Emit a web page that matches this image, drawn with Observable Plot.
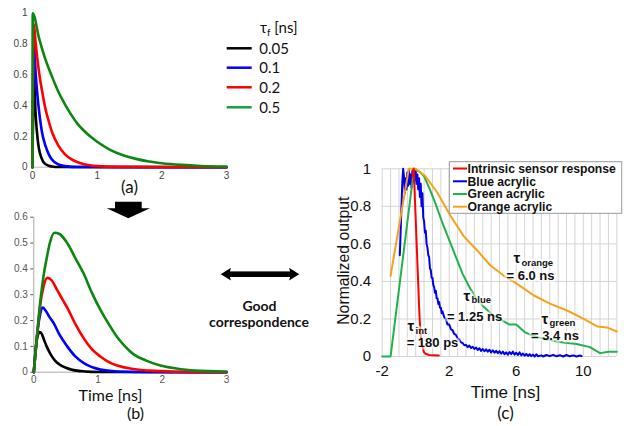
<!DOCTYPE html>
<html>
<head>
<meta charset="utf-8">
<script src="https://cdn.jsdelivr.net/npm/d3@7"></script>
<script src="https://cdn.jsdelivr.net/npm/@observablehq/plot@0.6"></script>
<style>
  html, body { margin: 0; padding: 0; background: #fff; }
  #root { position: relative; width: 633px; height: 426px; background: #fff; overflow: hidden; }
  #root > svg { position: absolute; }
</style>
</head>
<body>
<div id="root"></div>
<script>
// ---------- Panel (a): decay functions ----------
const aTauLabels = ["0.05", "0.1", "0.2", "0.5"];
const aColors = ["#000000", "#0000ff", "#ff0000", "#0b870f"];
const aLegendColors = ["#000000", "#0000ff", "#ff0000", "#14a044"];
const aXTicks = [0, 1, 2, 3];
const aYTicks = [0, 0.2, 0.4, 0.6, 0.8, 1];

const aBlackT = [0, 0.02, 0.05, 0.08, 0.1, 0.13, 0.16, 0.2, 0.25, 0.3, 0.4, 3];
const aBlackV = [0, 0.6, 0.33, 0.18, 0.12, 0.07, 0.04, 0.02, 0.01, 0.005, 0.001, 0];
const aBlueT = [0, 0.02, 0.05, 0.08, 0.1, 0.15, 0.2, 0.25, 0.3, 0.4, 0.5, 0.7, 3];
const aBlueV = [0, 0.8, 0.6, 0.45, 0.37, 0.22, 0.14, 0.085, 0.05, 0.018, 0.007, 0.001, 0];
const aRedT = [0, 0.02, 0.05, 0.1, 0.15, 0.2, 0.25, 0.3, 0.4, 0.5, 0.6, 0.8, 1.0, 1.3, 3];
const aRedV = [0, 0.93, 0.8, 0.62, 0.49, 0.38, 0.3, 0.23, 0.14, 0.085, 0.052, 0.019, 0.007, 0.002, 0];
const aGreenT = [0, 0.003, 0.1, 0.2, 0.3, 0.4, 0.5, 0.6, 0.7, 0.8, 0.9, 1.0, 1.2, 1.4, 1.6, 1.8, 2.0, 2.3, 2.6, 3];
const aGreenV = [0, 1, 0.84, 0.7, 0.59, 0.49, 0.41, 0.34, 0.28, 0.235, 0.197, 0.165, 0.113, 0.078, 0.054, 0.037, 0.026, 0.015, 0.008, 0.004];

// ---------- Panel (b): convolved responses ----------
const bXTicks = [0, 1, 2, 3];
const bYTicks = [0, 0.1, 0.2, 0.3, 0.4, 0.5, 0.6];
const bBlackT = [0, 0.03, 0.06, 0.09, 0.12, 0.16, 0.2, 0.26, 0.33, 0.4, 0.5, 0.6, 0.8, 1.0, 3];
const bBlackV = [0, 0.09, 0.14, 0.155, 0.15, 0.125, 0.1, 0.07, 0.045, 0.03, 0.017, 0.009, 0.003, 0.001, 0];
const bBlueT = [0, 0.05, 0.1, 0.14, 0.18, 0.24, 0.31, 0.4, 0.52, 0.65, 0.78, 1.04, 1.3, 1.6, 3];
const bBlueV = [0, 0.14, 0.225, 0.25, 0.24, 0.215, 0.19, 0.145, 0.1, 0.06, 0.035, 0.01, 0.003, 0.001, 0];
const bRedT = [0, 0.05, 0.1, 0.15, 0.21, 0.28, 0.36, 0.45, 0.52, 0.65, 0.78, 0.9, 1.04, 1.2, 1.3, 1.5, 1.8, 2.2, 3];
const bRedV = [0, 0.14, 0.26, 0.33, 0.365, 0.355, 0.32, 0.28, 0.25, 0.185, 0.13, 0.09, 0.06, 0.035, 0.026, 0.014, 0.006, 0.002, 0];
const bGreenT = [0, 0.05, 0.1, 0.15, 0.2, 0.25, 0.32, 0.4, 0.52, 0.65, 0.78, 0.9, 1.04, 1.17, 1.3, 1.42, 1.55, 1.75, 1.97, 2.2, 2.5, 3];
const bGreenV = [0, 0.14, 0.27, 0.37, 0.44, 0.5, 0.54, 0.535, 0.5, 0.44, 0.38, 0.31, 0.24, 0.185, 0.135, 0.1, 0.07, 0.045, 0.026, 0.015, 0.006, 0.003];

// ---------- Panel (c): measured responses ----------
const cSeries = ["Intrinsic sensor response", "Blue acrylic", "Green acrylic", "Orange acrylic"];
const cColors = ["#ff0000", "#0000ee", "#22b14c", "#f7a21b"];
const cXTicks = [-2, 2, 6, 10];
const cYTicks = [0, 0.2, 0.4, 0.6, 0.8, 1];

const cRedT = [-0.2, -0.12, 0, 0.1, 0.2, 0.245, 0.3, 0.39, 0.48, 0.58, 0.8, 1.0, 1.38];
const cRedV = [0.96, 1.0, 0.73, 0.5, 0.27, 0.18, 0.11, 0.06, 0.025, 0.015, 0.008, 0.006, 0.005];

const cBlueT = [-0.95, -0.9, -0.85, -0.8, -0.75, -0.7, -0.65, -0.6, -0.55, -0.5, -0.45, -0.4, -0.35, -0.3, -0.25, -0.2, -0.15, -0.1, -0.05, 0,
  0.05, 0.1, 0.15, 0.2, 0.25, 0.3, 0.35, 0.4, 0.45, 0.5, 0.55, 0.6, 0.65, 0.7, 0.75, 0.8, 0.85, 0.9, 0.95, 1.0,
  1.05, 1.1, 1.15, 1.2, 1.25, 1.3, 1.35, 1.4, 1.45, 1.5, 1.55, 1.6, 1.7, 1.8, 1.9, 2.0, 2.1, 2.2, 2.3, 2.4,
  2.5, 2.6, 2.7, 2.8, 2.9, 3.0, 3.1, 3.2, 3.3, 3.4, 3.5, 3.6, 3.7, 3.8, 3.9, 4.0, 4.1, 4.2, 4.3, 4.4,
  4.5, 4.6, 4.7, 4.8, 4.9, 5.0, 5.1, 5.2, 5.3, 5.4, 5.5, 5.6, 5.7, 5.8, 5.9, 6.0, 6.1, 6.2, 6.3, 6.4,
  6.5, 6.6, 6.7, 6.8, 6.9, 7.0, 7.1, 7.2, 7.3, 7.5, 7.6, 7.8, 8.0, 8.2, 8.4, 8.6, 8.8, 9.0, 9.2, 9.4, 9.6, 9.8, 9.9];
const cBlueV = [0.54, 0.66, 0.8, 0.93, 1.0, 0.96, 0.87, 0.95, 0.89, 0.98, 0.91, 0.99, 0.92, 0.97, 0.9, 0.99, 0.93, 1.0, 0.94, 0.99,
  0.92, 0.97, 0.89, 0.95, 0.85, 0.92, 0.8, 0.87, 0.74, 0.72, 0.66, 0.67, 0.6, 0.58, 0.54, 0.53, 0.47, 0.46, 0.42, 0.42,
  0.38, 0.37, 0.34, 0.35, 0.31, 0.31, 0.28, 0.29, 0.26, 0.26, 0.23, 0.24, 0.21, 0.2, 0.17, 0.17, 0.145, 0.14, 0.12, 0.115,
  0.095, 0.09, 0.075, 0.072, 0.06, 0.062, 0.05, 0.058, 0.045, 0.052, 0.04, 0.048, 0.035, 0.044, 0.03, 0.04, 0.028, 0.038, 0.026, 0.036,
  0.022, 0.033, 0.02, 0.03, 0.018, 0.028, 0.015, 0.026, 0.012, 0.022, 0.01, 0.024, 0.012, 0.026, 0.01, 0.02, 0.008, 0.022, 0.006, 0.016,
  0.004, 0.014, 0.003, 0.012, 0.002, 0.01, 0.0, 0.012, 0.001, 0.006, 0.0, 0.008, 0.002, 0.009, 0.001, 0.007, 0.0, 0.008, 0.001, 0.006, 0.0, 0.005, 0.002];

const cGreenT = [-2, -1.5, -0.1, 0.1, 0.3, 0.5, 0.8, 1.2, 1.6, 2.0, 2.4, 2.8, 3.2, 3.6, 4.0, 4.6, 5.2, 5.6, 6.0, 6.5, 7.0, 7.8, 8.8, 9.6, 10.4, 11.0, 11.5, 12];
const cGreenV = [0, 0, 1.0, 0.99, 0.98, 0.96, 0.9, 0.81, 0.71, 0.62, 0.53, 0.44, 0.37, 0.31, 0.27, 0.22, 0.19, 0.17, 0.17, 0.13, 0.11, 0.09, 0.075, 0.067, 0.05, 0.018, 0.025, 0.025];

const cOrangeT = [-1.5, -0.41, 0.0, 0.58, 1.28, 2.07, 2.87, 3.67, 4.46, 5.26, 6.05, 7.05, 8.04, 9.03, 10.03, 10.83, 11.4, 12];
const cOrangeV = [0.43, 1.0, 1.0, 0.96, 0.875, 0.75, 0.64, 0.565, 0.485, 0.43, 0.387, 0.325, 0.28, 0.245, 0.2, 0.16, 0.155, 0.133];

// annotations (data coordinates)
const cTauSub = ["orange", "blue", "green", "int"];
const cTauT = [5.83, 2.85, 7.5, -0.49];
const cTauV = [0.522, 0.32, 0.2, 0.16];
const cEqText = ["= 6.0 ns", "= 1.25 ns", "= 3.4 ns", "= 180 ps"];
const cEqT = [6.85, 3.51, 8.31, 1.0];
const cEqV = [0.432, 0.213, 0.112, 0.075];

const cGrid = d3.range(-2, 12.001, 0.5);

// ---------- helpers ----------
const zip = (T, V) => T.map((t, i) => ({t, v: V[i]}));
const root = document.getElementById("root");
function place(svg, left, top) {
  svg.style.left = left + "px";
  svg.style.top = top + "px";
  root.appendChild(svg);
}
const idx4 = [0, 1, 2, 3];
const mid = {textAnchor: "middle", lineAnchor: "middle"};

// ---------- Panel (a) ----------
const aSeries = [zip(aBlackT, aBlackV), zip(aBlueT, aBlueV), zip(aRedT, aRedV), zip(aGreenT, aGreenV)];
const plotA = Plot.plot({
  width: 232, height: 200,
  marginLeft: 32, marginRight: 6, marginTop: 12.7, marginBottom: 33.3,
  x: {domain: [0, 3], ticks: aXTicks, tickSize: 0, tickPadding: 5, label: null, tickFormat: d => String(d)},
  y: {domain: [0, 1], ticks: aYTicks, tickSize: 0, tickPadding: 5, label: null, tickFormat: d => String(d)},
  style: {background: "none", fontFamily: "Liberation Sans, Arial, sans-serif", fontSize: "10px", color: "#444", overflow: "visible"},
  marks: [
    Plot.ruleY([0], {stroke: "#bbbbbb"}),
    ...aSeries.map((s, i) => Plot.line(s, {x: "t", y: "v", stroke: aColors[i], strokeWidth: 2.6, curve: "monotone-x"})),
    Plot.text(["(a)"], {frameAnchor: "bottom", ...mid, dy: 20, fontSize: 17, fontFamily: "Lato, sans-serif", fill: "#111"})
  ]
});
place(plotA, 0, 0);

// ---------- Panel (b) ----------
const bSeries = [zip(bBlackT, bBlackV), zip(bBlueT, bBlueV), zip(bRedT, bRedV), zip(bGreenT, bGreenV)];
const plotB = Plot.plot({
  width: 232, height: 231,
  marginLeft: 33.3, marginRight: 6, marginTop: 21.7, marginBottom: 54.3,
  x: {domain: [0, 3], ticks: bXTicks, tickSize: 0, tickPadding: 4, label: null, tickFormat: d => String(d)},
  y: {domain: [0, 0.6], ticks: bYTicks, tickSize: 3, tickPadding: 3, label: null, tickFormat: d => String(d)},
  style: {background: "none", fontFamily: "Liberation Sans, Arial, sans-serif", fontSize: "10px", color: "#555", overflow: "visible"},
  marks: [
    Plot.ruleY([0], {stroke: "#aaaaaa"}),
    Plot.ruleX([0], {stroke: "#aaaaaa"}),
    ...bSeries.map((s, i) => Plot.line(s, {x: "t", y: "v", stroke: aColors[i], strokeWidth: 2.6, curve: "monotone-x"})),
    Plot.text(["Time [ns]"], {frameAnchor: "bottom", ...mid, dx: -19.7, dy: 23.5, fontSize: 16, fontFamily: "Lato, sans-serif", fill: "#111"}),
    Plot.text(["(b)"], {frameAnchor: "bottom", ...mid, dx: 5.3, dy: 42, fontSize: 16, fontFamily: "Lato, sans-serif", fill: "#111"})
  ]
});
place(plotB, 0, 195);

// ---------- Panel (c) ----------
const cData = [zip(cBlueT, cBlueV), zip(cGreenT, cGreenV), zip(cOrangeT, cOrangeV), zip(cRedT, cRedV)];
const cDataColors = [cColors[1], cColors[2], cColors[3], cColors[0]];
const halo = {stroke: "white", strokeOpacity: 0.55, strokeWidth: 5};
const plotC = Plot.plot({
  width: 313, height: 286,
  marginLeft: 61.7, marginRight: 16.7, marginTop: 28.3, marginBottom: 70,
  x: {domain: [-2, 12], ticks: cXTicks, tickSize: 0, tickPadding: 9, label: null, tickFormat: d => String(d)},
  y: {domain: [0, 1], ticks: cYTicks, tickSize: 0, tickPadding: 11, label: null, tickFormat: d => String(d)},
  style: {background: "none", fontFamily: "Liberation Sans, Arial, sans-serif", fontSize: "15px", color: "#111", overflow: "visible"},
  marks: [
    Plot.ruleX(cGrid, {stroke: "#d4d4d4"}),
    Plot.ruleY(cYTicks, {stroke: "#d4d4d4"}),
    ...cData.map((s, i) => Plot.line(s, {x: "t", y: "v", stroke: cDataColors[i], strokeWidth: 2})),
    Plot.text(idx4, {x: i => cTauT[i], y: i => cTauV[i], text: () => "τ", textAnchor: "start", fontSize: 15, fontWeight: "bold", fill: "#111", ...halo}),
    Plot.text(idx4, {x: i => cTauT[i], y: i => cTauV[i], text: i => cTauSub[i], textAnchor: "start", dx: 8, dy: 4, fontSize: 9.5, fontWeight: "bold", fill: "#111", ...halo}),
    Plot.text(idx4, {x: i => cEqT[i], y: i => cEqV[i], text: i => cEqText[i], fontSize: 13, fontWeight: "bold", fill: "#111", ...halo}),
    Plot.text(["Time [ns]"], {frameAnchor: "bottom", ...mid, dx: 6, dy: 36, fontSize: 17, fill: "#111"}),
    Plot.text(["(c)"], {frameAnchor: "bottom", ...mid, dx: 6, dy: 57, fontSize: 17, fontFamily: "Lato, sans-serif", fill: "#111"})
  ]
});
place(plotC, 320, 140);

// ---------- Overlay: legends, arrows, caption ----------
const NS = "http://www.w3.org/2000/svg";
const ov = document.createElementNS(NS, "svg");
ov.setAttribute("width", 633);
ov.setAttribute("height", 426);
ov.style.left = "0px"; ov.style.top = "0px";
let html = "";
// legend (a)
html += `<text x="260" y="28" dy="0.35em" font-family="Lato, sans-serif" font-size="15" fill="#111">τ<tspan font-size="10" dy="3">f</tspan><tspan dy="-3"> [ns]</tspan></text>`;
const aLegY = [48.3, 67.7, 87.3, 107.3];
aTauLabels.forEach((lab, i) => {
  html += `<line x1="226.7" x2="251.7" y1="${aLegY[i]}" y2="${aLegY[i]}" stroke="${aLegendColors[i]}" stroke-width="2.5"/>`;
  html += `<text x="259.3" y="${aLegY[i]}" dy="0.35em" font-family="Lato, sans-serif" font-size="15" fill="#111">${lab}</text>`;
});
// down arrow
html += `<polygon points="115,201.7 141.7,201.7 141.7,208.3 150,208.3 128.3,218.3 106.7,208.3 115,208.3" fill="#000"/>`;
// double arrow
html += `<rect x="228" y="271.4" width="64" height="5.6" fill="#000"/>`;
html += `<polygon points="220.7,274.2 231,267.8 229,274.2 231,280.6" fill="#000"/>`;
html += `<polygon points="299.3,274.2 289,267.8 291,274.2 289,280.6" fill="#000"/>`;
html += `<text x="259.5" y="306.5" dy="0.35em" text-anchor="middle" font-family="Lato, sans-serif" font-weight="bold" font-size="14" fill="#111">Good</text>`;
html += `<text x="259" y="322.5" dy="0.35em" text-anchor="middle" font-family="Lato, sans-serif" font-weight="bold" font-size="14" fill="#111">correspondence</text>`;
// y label of panel (c)
html += `<text transform="translate(343,260.7) rotate(-90)" text-anchor="middle" dy="0.35em" font-family="Liberation Sans, Arial, sans-serif" font-size="15.8" fill="#111">Normalized output</text>`;
// legend (c)
html += `<rect x="449.3" y="161.7" width="172.4" height="51.6" fill="#fff" stroke="#9a9a9a" stroke-width="1"/>`;
const cLegY = [168.5, 181.3, 194, 206.7];
cSeries.forEach((lab, i) => {
  html += `<line x1="453" x2="467" y1="${cLegY[i]}" y2="${cLegY[i]}" stroke="${cColors[i]}" stroke-width="2"/>`;
  html += `<text x="467.5" y="${cLegY[i]}" dy="0.36em" font-family="Liberation Sans, Arial, sans-serif" font-weight="bold" font-size="12.2" fill="#111">${lab}</text>`;
});
ov.innerHTML = html;
root.appendChild(ov);
</script>
</body>
</html>
